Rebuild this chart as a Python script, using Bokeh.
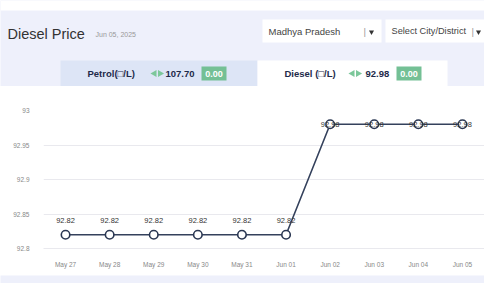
import math
from bokeh.plotting import figure
from bokeh.layouts import column, row
from bokeh.models import Range1d, FactorRange, FixedTicker, ColumnDataSource
from bokeh.core.properties import value
from bokeh.embed import file_html
from bokeh.resources import INLINE

# ---------------- data ----------------
dates = ["May 27", "May 28", "May 29", "May 30", "May 31",
         "Jun 01", "Jun 02", "Jun 03", "Jun 04", "Jun 05"]
prices = [92.82, 92.82, 92.82, 92.82, 92.82, 92.82, 92.98, 92.98, 92.98, 92.98]
y_ticks = [92.8, 92.85, 92.9, 92.95, 93]
y_tick_labels = ["92.8", "92.85", "92.9", "92.95", "93"]

title_text = "Diesel Price"
date_text = "Jun 05, 2025"
state_text = "Madhya Pradesh"
city_text = "Select City/District"
petrol_label = "Petrol(\u25a1/L)"
petrol_price = "107.70"
petrol_change = "0.00"
diesel_label = "Diesel (\u25a1/L)"
diesel_price = "92.98"
diesel_change = "0.00"

FONT = "Liberation Sans"
LAV = "#eef0fb"
TAB = "#dde5f6"
GREEN = "#74c095"
NAVY = "#1e2a4a"

W = 484
HH = 86

# ---------------- header ----------------
h = figure(width=W, height=HH, x_range=Range1d(0, W), y_range=Range1d(HH, 0),
           output_backend="svg", toolbar_location=None,
           x_axis_location=None, y_axis_location=None, min_border=0)
h.grid.visible = False
h.outline_line_color = None
h.background_fill_color = LAV
h.border_fill_color = LAV

h.quad(left=0, right=W, top=0, bottom=10, fill_color="white", line_color=None)
# dropdown boxes
h.quad(left=[262, 385], right=[381, W], top=[19, 19], bottom=[42, 42],
       fill_color="white", line_color=None)
# tabs
h.quad(left=60, right=257, top=60, bottom=86, fill_color=TAB, line_color=None)
h.quad(left=257, right=447, top=60, bottom=86, fill_color="white", line_color=None)
# badges
h.quad(left=[201, 396], right=[226, 421], top=[66, 66], bottom=[80, 80],
       fill_color=GREEN, line_color=None)

def txt(fig, x, y, t, size, color, style="normal", align="left", font=FONT):
    fig.text(x=[x], y=[y], text=[t], text_font=value(font), text_font_size=size,
             text_color=color, text_font_style=style, text_align=align,
             text_baseline="middle")

txt(h, 7, 33, title_text, "14.5px", "#333333")
txt(h, 95, 34, date_text, "7px", "#999999")
txt(h, 268, 30.5, state_text, "9.5px", "#444444")
txt(h, 363, 30.5, "|", "9.5px", "#999999")
txt(h, 391, 30.5, city_text, "9.2px", "#444444")
txt(h, 471, 30.5, "|", "9.5px", "#999999")
h.scatter(x=[371, 478], y=[31.5, 31.5], marker="inverted_triangle", size=5,
          fill_color="#333333", line_color=None)

# green left/right arrow icons
h.scatter(x=[154, 159.5, 352, 357.5], y=[73, 73, 73, 73], marker="triangle",
          angle=[math.pi / 2, -math.pi / 2, math.pi / 2, -math.pi / 2],
          size=7, fill_color="#7cc79a", line_color=None)

txt(h, 87, 73, petrol_label, "9.5px", NAVY, "bold")
txt(h, 165, 73, petrol_price, "9.5px", NAVY, "bold")
txt(h, 213.5, 73, petrol_change, "9px", "white", "bold", "center")

txt(h, 284, 73, diesel_label, "9.5px", NAVY, "bold")
txt(h, 365, 73, diesel_price, "9.5px", NAVY, "bold")
txt(h, 408.5, 73, diesel_change, "9px", "white", "bold", "center")

# ---------------- chart ----------------
ymin = y_ticks[0]
ymax = ymin + (y_ticks[-1] - y_ticks[0]) * 148 / 138
p = figure(width=W, height=187, x_range=FactorRange(*dates),
           y_range=Range1d(ymin, ymax), output_backend="svg",
           toolbar_location=None, min_border_left=43, min_border_right=0,
           min_border_top=14, min_border_bottom=25)
p.background_fill_color = "white"
p.border_fill_color = "white"
p.outline_line_color = None

p.xgrid.visible = False
p.ygrid.ticker = FixedTicker(ticks=y_ticks[:-1])
p.ygrid.grid_line_color = "#e9e9ee"
p.ygrid.grid_line_width = 1

p.yaxis.ticker = FixedTicker(ticks=y_ticks)
p.yaxis.major_label_overrides = dict(zip(y_ticks, y_tick_labels))
for ax in (p.xaxis[0], p.yaxis[0]):
    ax.major_tick_line_color = None
    ax.minor_tick_line_color = None
    ax.major_label_text_font = FONT
    ax.major_label_text_font_size = "6.5px"
    ax.major_label_text_color = "#888888"
p.yaxis.axis_line_color = None
p.yaxis.major_label_standoff = 8
p.xaxis.axis_line_color = "#e9e9ee"
p.xaxis.major_label_standoff = 6

top_limit = y_ticks[-2]
src = ColumnDataSource(dict(
    x=dates, y=prices,
    label=["%.2f" % v for v in prices],
    yoff=[-14 if v < top_limit else 0 for v in prices],
))
p.line("x", "y", source=src, line_color="#34415c", line_width=1.6)
p.scatter("x", "y", source=src, size=8.5, fill_color="white",
          line_color="#2a3752", line_width=1.6)
p.text("x", "y", text="label", source=src, y_offset="yoff",
       text_font=value(FONT), text_font_size="7.5px", text_color="#333333",
       text_align="center", text_baseline="middle")

# ---------------- bottom strip ----------------
b = figure(width=W, height=10, x_range=Range1d(0, W), y_range=Range1d(10, 0),
           output_backend="svg", toolbar_location=None,
           x_axis_location=None, y_axis_location=None, min_border=0)
b.grid.visible = False
b.outline_line_color = None
b.background_fill_color = LAV
b.border_fill_color = LAV

layout = column(row(h), p, row(b))
open("out.html", "w").write(file_html(layout, INLINE))
